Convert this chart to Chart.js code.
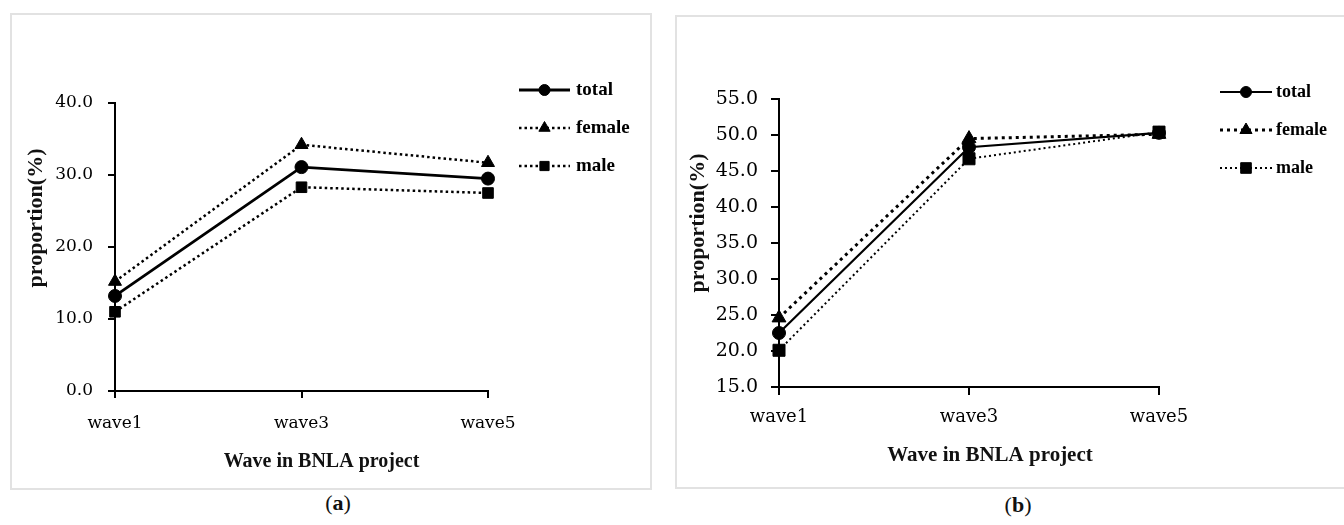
<!DOCTYPE html>
<html>
<head>
<meta charset="utf-8">
<script src="https://cdn.jsdelivr.net/npm/chart.js@4.4.1/dist/chart.umd.min.js"></script>
<style>
  body { margin: 0; background: #fff; width: 1344px; height: 525px; overflow: hidden; position: relative; }
  .box { position: absolute; border: 2px solid #e2e2e2; box-sizing: border-box; }
  .wrap { position: absolute; }
  .cap { position: absolute; width: 80px; text-align: center; font: 22px "Liberation Serif", serif; color: #111; }
</style>
</head>
<body>
<div class="box" style="left:10px;top:13px;width:642px;height:477px"></div>
<div class="box" style="left:675px;top:15px;width:690px;height:474px"></div>
<div class="wrap" style="left:10px;top:13px"><canvas id="chartA" width="641" height="476"></canvas></div>
<div class="wrap" style="left:675px;top:15px"><canvas id="chartB" width="669" height="473"></canvas></div>
<div class="cap" style="left:298px;top:490px">(<b>a</b>)</div>
<div class="cap" style="left:978px;top:492px">(<b>b</b>)</div>
<script>
// data
const waves = ["wave1", "wave3", "wave5"];
const seriesNames = ["total", "female", "male"];

const totalA = [13.2, 31.1, 29.5];
const femaleA = [15.2, 34.2, 31.7];
const maleA = [11.0, 28.3, 27.5];

const totalB = [22.5, 48.3, 50.3];
const femaleB = [24.6, 49.5, 50.1];
const maleB = [20.1, 46.7, 50.4];

const xTitle = "Wave in BNLA project";
const yTitle = "proportion(%)";

// legend with line + marker, drawn from the datasets
const lineLegend = {
    id: "lineLegend",
    afterDraw(chart, args, opts) {
        const ctx = chart.ctx;
        const x0 = chart.chartArea.right + opts.dx;
        chart.data.datasets.forEach((ds, i) => {
            const y = opts.top + i * opts.gap;
            ctx.save();
            ctx.strokeStyle = ds.borderColor;
            ctx.lineWidth = ds.borderWidth;
            ctx.setLineDash(ds.borderDash || []);
            ctx.beginPath();
            ctx.moveTo(x0, y);
            ctx.lineTo(x0 + opts.len, y);
            ctx.stroke();
            ctx.setLineDash([]);
            ctx.fillStyle = "#000";
            ctx.strokeStyle = "#000";
            ctx.lineWidth = 1;
            Chart.helpers.drawPoint(ctx, { pointStyle: ds.pointStyle, radius: ds.pointRadius - 1, borderWidth: 1 }, x0 + opts.len / 2, y);
            ctx.font = opts.font;
            ctx.textBaseline = "middle";
            ctx.fillText(ds.label, x0 + opts.len + opts.textGap, y);
            ctx.restore();
        });
    }
};

// axis titles, placed relative to the chart area (the original sits off-centre)
const axisTitles = {
    id: "axisTitles",
    afterDraw(chart, args, o) {
        const ctx = chart.ctx;
        const a = chart.chartArea;
        ctx.save();
        ctx.fillStyle = "#111";
        ctx.textAlign = "center";
        ctx.textBaseline = "middle";
        ctx.font = o.xFont;
        ctx.fillText(xTitle, (a.left + a.right) / 2 + o.xdx, o.xy);
        ctx.translate(o.yx, (a.top + a.bottom) / 2 + o.ydy);
        ctx.rotate(-Math.PI / 2);
        ctx.font = o.yFont;
        ctx.fillText(yTitle, 0, 0);
        ctx.restore();
    }
};

function dataset(label, data, dash, width, style, radius) {
    return {
        label: label,
        data: data,
        borderColor: "#000",
        backgroundColor: "#000",
        borderWidth: width,
        borderDash: dash,
        pointStyle: style,
        pointRadius: radius,
        pointBackgroundColor: "#000",
        pointBorderColor: "#000",
        pointBorderWidth: 1,
        tension: 0
    };
}

function panelOptions(p) {
    return {
        responsive: false,
        animation: false,
        layout: { padding: { left: 0, top: p.top, right: p.right, bottom: 0 } },
        plugins: {
            legend: { display: false },
            tooltip: { enabled: false },
            lineLegend: p.legend,
            axisTitles: p.titles
        },
        scales: {
            x: {
                offset: false,
                afterFit: s => { s.height = p.xh; },
                border: { color: "#000", width: 2 },
                grid: { drawOnChartArea: false, color: "#000", lineWidth: 2, tickLength: p.tl },
                ticks: { autoSkip: false, maxRotation: 0, color: "#000", padding: p.xpad,
                         font: { family: "DejaVu Serif", size: p.xsize } }
            },
            y: {
                min: p.min, max: p.max,
                afterFit: s => { s.width = p.yw; },
                border: { color: "#000", width: 2 },
                grid: { drawOnChartArea: false, color: "#000", lineWidth: 2, tickLength: p.tl },
                ticks: { stepSize: p.step, color: "#000", padding: p.ypad,
                         callback: v => v.toFixed(1),
                         font: { family: "DejaVu Serif", size: p.ysize } }
            }
        }
    };
}

// (a)
const chartA = new Chart(document.getElementById("chartA"), {
    type: "line",
    data: {
        labels: waves,
        datasets: [
            dataset(seriesNames[0], totalA, [], 2.8, "circle", 6.5),
            dataset(seriesNames[1], femaleA, [2.5, 3], 2.5, "triangle", 7.5),
            dataset(seriesNames[2], maleA, [2.5, 3], 2.5, "rect", 7.5)
        ]
    },
    options: panelOptions({
        top: 90, right: 163, xh: 98, yw: 105, tl: 7,
        xpad: 15, ypad: 15, xsize: 17, ysize: 17,
        min: 0, max: 40, step: 10,
        legend: { dx: 31, top: 77, gap: 38, len: 51, textGap: 6, font: "bold 19px 'Liberation Serif'" },
        titles: { xFont: "bold 20px 'Liberation Serif'", xdx: 20, xy: 449,
                  yFont: "bold 22px 'Liberation Serif'", yx: 26, ydy: -29 }
    }),
    plugins: [lineLegend, axisTitles]
});

// (b)
const chartB = new Chart(document.getElementById("chartB"), {
    type: "line",
    data: {
        labels: waves,
        datasets: [
            dataset(seriesNames[0], totalB, [], 2.2, "circle", 6.5),
            dataset(seriesNames[1], femaleB, [3, 4], 3, "triangle", 8),
            dataset(seriesNames[2], maleB, [2, 3], 2, "rect", 8.5)
        ]
    },
    options: panelOptions({
        top: 84, right: 185, xh: 101, yw: 104, tl: 8,
        xpad: 12, ypad: 13, xsize: 18, ysize: 19,
        min: 15, max: 55, step: 5,
        legend: { dx: 61, top: 77, gap: 38, len: 52, textGap: 4, font: "bold 18px 'Liberation Serif'" },
        titles: { xFont: "bold 21px 'Liberation Serif'", xdx: 21, xy: 441,
                  yFont: "bold 22px 'Liberation Serif'", yx: 23, ydy: -20 }
    }),
    plugins: [lineLegend, axisTitles]
});
</script>
</body>
</html>
